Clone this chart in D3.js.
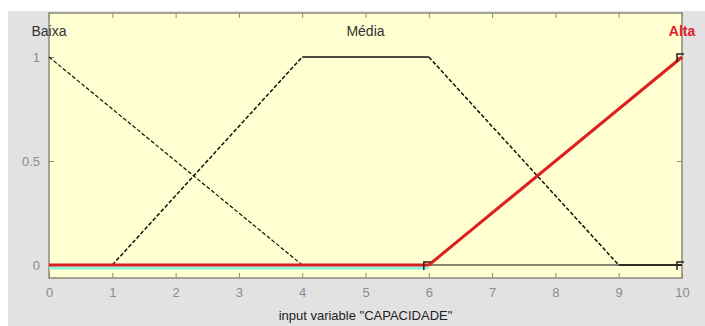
<!DOCTYPE html>
<html>
<head>
<meta charset="utf-8">
<script src="https://cdn.jsdelivr.net/npm/d3@7"></script>
<style>
  body { margin: 0; background: #fff; }
  text { font-family: "Liberation Sans", Arial, sans-serif; }
</style>
</head>
<body>
<svg id="chart" width="705" height="326"></svg>
<script>
// membership functions of input variable "CAPACIDADE"
var xTicks = [0, 1, 2, 3, 4, 5, 6, 7, 8, 9, 10];
var yTicks = [0, 0.5, 1];
var yTickLabels = ["0", "0.5", "1"];
var mfNames = ["Baixa", "Média", "Alta"];
var mfCenters = [0, 5, 10];
var baixaX = [0, 4, 10], baixaY = [1, 0, 0];
var mediaX = [0, 1, 4, 6, 9, 10], mediaY = [0, 0, 1, 1, 0, 0];
var altaX = [0, 6, 10], altaY = [0, 0, 1];

var svg = d3.select("#chart");
var plotL = 49, plotR = 682, plotT = 13, plotB = 278;

// grey figure background
svg.append("rect")
	.attr("x", 8).attr("y", 11)
	.attr("width", 697).attr("height", 315)
	.attr("fill", "#e2e2e2");

var x = d3.scaleLinear().domain([0, 10]).range([plotL, plotR]);
var y = d3.scaleLinear().domain([-0.0625, 1.2115]).range([plotB, plotT]);

svg.append("rect")
	.attr("x", plotL).attr("y", plotT)
	.attr("width", plotR - plotL).attr("height", plotB - plotT)
	.attr("fill", "#ffffd2");

// axes, MATLAB style (ticks inside, box)
var tickLen = 5;
var axB = svg.append("g").attr("transform", "translate(0," + plotB + ")")
	.call(d3.axisBottom(x).tickValues(xTicks).tickSizeInner(-tickLen).tickSizeOuter(0).tickPadding(10).tickFormat(d3.format("d")));
var axT = svg.append("g").attr("transform", "translate(0," + plotT + ")")
	.call(d3.axisTop(x).tickValues(xTicks).tickSizeInner(-tickLen).tickSizeOuter(0).tickFormat(""));
var axL = svg.append("g").attr("transform", "translate(" + plotL + ",0)")
	.call(d3.axisLeft(y).tickValues(yTicks).tickSizeInner(-tickLen).tickSizeOuter(0).tickPadding(9)
		.tickFormat(function(d, i) { return yTickLabels[i]; }));
var axR = svg.append("g").attr("transform", "translate(" + plotR + ",0)")
	.call(d3.axisRight(y).tickValues(yTicks).tickSizeInner(-tickLen).tickSizeOuter(0).tickFormat(""));

[axB, axT, axL, axR].forEach(function(a) {
	a.select(".domain").remove();
	a.selectAll("line").attr("stroke", "#8a8a7a");
	a.selectAll("text").attr("fill", "#8c8c8c").style("font-size", "13px")
		.style("font-family", "'Liberation Sans', Arial, sans-serif");
});

svg.append("rect")
	.attr("x", plotL).attr("y", plotT)
	.attr("width", plotR - plotL).attr("height", plotB - plotT)
	.attr("fill", "none").attr("stroke", "#8a8a7a").attr("stroke-width", 1.5);

// cyan highlight under the zero line
svg.append("line")
	.attr("x1", x(0)).attr("x2", x(6))
	.attr("y1", y(0) + 3).attr("y2", y(0) + 3)
	.attr("stroke", "#8af5dc").attr("stroke-width", 3);

function drawMF(xs, ys, color, width) {
	for (var i = 0; i < xs.length - 1; i++) {
		var flat = ys[i] == ys[i + 1];
		svg.append("line")
			.attr("x1", x(xs[i])).attr("y1", y(ys[i]))
			.attr("x2", x(xs[i + 1])).attr("y2", y(ys[i + 1]))
			.attr("stroke", color)
			.attr("stroke-width", width)
			.attr("stroke-dasharray", (flat || width > 1.5) ? null : "4,2");
	}
}

drawMF(baixaX, baixaY, "#111", 1.2);
drawMF(mediaX, mediaY, "#111", 1.5);
drawMF(altaX, altaY, "#dd1f1f", 3);

// small end markers
[[6, 0], [10, 0], [10, 1]].forEach(function(p) {
	svg.append("path")
		.attr("d", "M" + (x(p[0]) - 5) + "," + (y(p[1]) + 5) + "V" + (y(p[1]) - 3) + "H" + (x(p[0]) + 2))
		.attr("fill", "none").attr("stroke", "#222").attr("stroke-width", 1.5);
});

// mf labels
svg.selectAll(".mflabel")
	.data(mfNames)
	.enter().append("text")
	.attr("class", "mflabel")
	.attr("x", function(d, i) { return x(mfCenters[i]); })
	.attr("y", y(1.1))
	.attr("text-anchor", "middle")
	.attr("fill", function(d, i) { return i == 2 ? "#e0202a" : "#333"; })
	.style("font-weight", function(d, i) { return i == 2 ? "bold" : "normal"; })
	.style("font-size", "14px")
	.text(function(d) { return d; });

svg.append("text")
	.attr("x", (plotL + plotR) / 2)
	.attr("y", 320)
	.attr("text-anchor", "middle")
	.attr("fill", "#222")
	.style("font-size", "13px")
	.text("input variable \"CAPACIDADE\"");
</script>
</body>
</html>
